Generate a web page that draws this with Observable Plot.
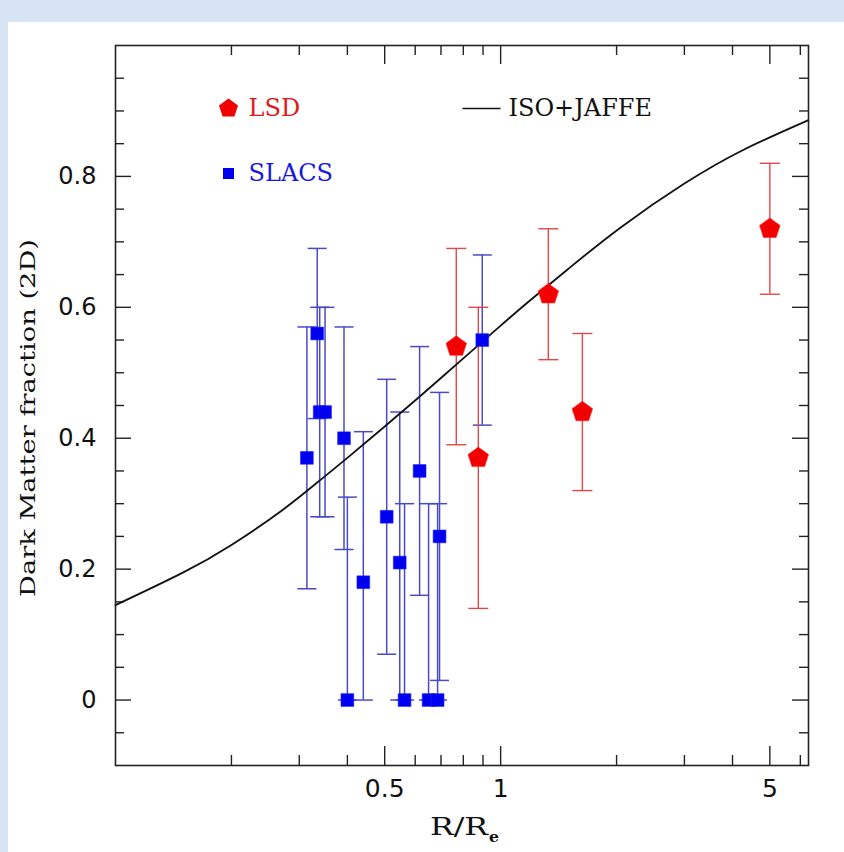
<!DOCTYPE html>
<html>
<head>
<meta charset="utf-8">
<script src="https://cdn.jsdelivr.net/npm/d3@7"></script>
<script src="https://cdn.jsdelivr.net/npm/@observablehq/plot@0.6"></script>
<style>
  html, body { margin: 0; padding: 0; }
  body { width: 844px; height: 852px; background: #d6e4f3; position: relative; overflow: hidden; }
  #chart { position: absolute; left: 8px; top: 22px; width: 836px; height: 830px; background: #ffffff; }
  #chart svg { display: block; background: #ffffff; }
</style>
</head>
<body>
<div id="chart"></div>
<script>
// ---- Data ----
// LSD sample (red pentagons)
const lsdR  = [0.767, 0.875, 1.33, 1.63, 5.0];
const lsdF  = [0.54, 0.37, 0.62, 0.44, 0.72];
const lsdLo = [0.39, 0.14, 0.52, 0.32, 0.62];
const lsdHi = [0.69, 0.60, 0.72, 0.56, 0.82];

// SLACS sample (blue squares)
const slacsR  = [0.314, 0.334, 0.339, 0.350, 0.392, 0.400, 0.440, 0.506, 0.547, 0.563, 0.616, 0.650, 0.686, 0.694, 0.896];
const slacsF  = [0.37, 0.56, 0.44, 0.44, 0.40, 0.00, 0.18, 0.28, 0.21, 0.00, 0.35, 0.00, 0.00, 0.25, 0.55];
const slacsLo = [0.17, 0.43, 0.28, 0.28, 0.23, 0.00, 0.00, 0.07, 0.00, 0.00, 0.16, 0.00, 0.00, 0.03, 0.42];
const slacsHi = [0.57, 0.69, 0.60, 0.60, 0.57, 0.31, 0.41, 0.49, 0.44, 0.30, 0.54, 0.30, 0.30, 0.47, 0.68];

// ISO+JAFFE model curve
const modelR = [0.1, 0.15, 0.2, 0.271, 0.34, 0.4, 0.5, 0.623, 0.8, 1.0, 1.2, 1.5, 2.05, 3.0, 4.25, 6.3];
const modelF = [0.145, 0.195, 0.237, 0.29, 0.336, 0.37, 0.418, 0.466, 0.522, 0.572, 0.612, 0.659, 0.722, 0.789, 0.840, 0.886];

// Ticks
const xLabelTicks = [0.5, 1, 5];
const xMinorTicks = [0.2, 0.3, 0.4, 0.6, 0.7, 0.8, 0.9, 2, 3, 4, 6];
const yLabelTicks = [0, 0.2, 0.4, 0.6, 0.8];
const yMinorTicks = [-0.05, 0.05, 0.1, 0.15, 0.25, 0.3, 0.35, 0.45, 0.5, 0.55, 0.65, 0.7, 0.75, 0.85, 0.9, 0.95];

// Legend / labels
const legendLSD = "LSD";
const legendSLACS = "SLACS";
const legendModel = "ISO+JAFFE";
const yTitle = "Dark Matter fraction (2D)";
const xTitleMain = "R/R";
const xTitleSub = "e";

// ---- Build tables ----
const lsd = lsdR.map((r, i) => ({r, f: lsdF[i], lo: lsdLo[i], hi: lsdHi[i]}));
const slacs = slacsR.map((r, i) => ({r, f: slacsF[i], lo: slacsLo[i], hi: slacsHi[i]}));
const model = modelR.map((r, i) => ({r, f: modelF[i]}));

// ---- Custom symbols ----
const pentagon = {
  draw(context, size) {
    const R = Math.sqrt(size / Math.PI);
    for (let i = 0; i < 5; i++) {
      const a = -Math.PI / 2 + i * 2 * Math.PI / 5;
      const px = R * Math.cos(a), py = R * Math.sin(a);
      if (i === 0) context.moveTo(px, py); else context.lineTo(px, py);
    }
    context.closePath();
  }
};
const hbar = {
  draw(context, size) {
    const w = Math.sqrt(size / Math.PI);
    context.moveTo(-w, 0);
    context.lineTo(w, 0);
  }
};

const W = 836, H = 830;
const mL = 107, mR = 36, mT = 23, mB = 87;
const pW = W - mL - mR, pH = H - mT - mB;

const RED = "#f20000", REDBAR = "#e04848";
const BLUE = "#0000f0", BLUEBAR = "#4a4ac6";
const AX = "#222";

const chart = Plot.plot({
  width: W,
  height: H,
  marginLeft: mL,
  marginRight: mR,
  marginTop: mT,
  marginBottom: mB,
  x: {type: "log", domain: [0.1, 6.3]},
  y: {domain: [-0.1, 1.0]},
  style: {background: "white"},
  marks: [
    // tick labels
    Plot.axisX(xLabelTicks, {anchor: "bottom", tickSize: 0, tickPadding: 14, tickFormat: d => String(d),
      fontSize: 25, fontFamily: "DejaVu Sans", fill: "#111", label: null}),
    Plot.axisY(yLabelTicks, {anchor: "left", tickSize: 0, tickPadding: 17, tickFormat: d => String(d),
      fontSize: 24, fontFamily: "DejaVu Sans", fill: "#111", label: null, dx: -2}),
    // inward tick marks: bottom / top
    Plot.tickX(xLabelTicks, {x: d => d, insetTop: pH - 19, stroke: AX, strokeWidth: 1.4}),
    Plot.tickX(xMinorTicks, {x: d => d, insetTop: pH - 10, stroke: AX, strokeWidth: 1.4}),
    Plot.tickX(xLabelTicks, {x: d => d, insetBottom: pH - 19, stroke: AX, strokeWidth: 1.4}),
    Plot.tickX(xMinorTicks, {x: d => d, insetBottom: pH - 10, stroke: AX, strokeWidth: 1.4}),
    // inward tick marks: left / right
    Plot.tickY(yLabelTicks, {y: d => d, insetRight: pW - 16, stroke: AX, strokeWidth: 1.4}),
    Plot.tickY(yMinorTicks, {y: d => d, insetRight: pW - 9, stroke: AX, strokeWidth: 1.4}),
    Plot.tickY(yLabelTicks, {y: d => d, insetLeft: pW - 16, stroke: AX, strokeWidth: 1.4}),
    Plot.tickY(yMinorTicks, {y: d => d, insetLeft: pW - 9, stroke: AX, strokeWidth: 1.4}),
    // error bars SLACS
    Plot.ruleX(slacs, {x: "r", y1: "lo", y2: "hi", stroke: BLUEBAR, strokeWidth: 1.5}),
    Plot.dot(slacs, {x: "r", y: "lo", symbol: hbar, r: 9.5, stroke: BLUEBAR, fill: "none", strokeWidth: 1.5}),
    Plot.dot(slacs, {x: "r", y: "hi", symbol: hbar, r: 9.5, stroke: BLUEBAR, fill: "none", strokeWidth: 1.5}),
    // error bars LSD
    Plot.ruleX(lsd, {x: "r", y1: "lo", y2: "hi", stroke: REDBAR, strokeWidth: 1.4}),
    Plot.dot(lsd, {x: "r", y: "lo", symbol: hbar, r: 10, stroke: REDBAR, fill: "none", strokeWidth: 1.4}),
    Plot.dot(lsd, {x: "r", y: "hi", symbol: hbar, r: 10, stroke: REDBAR, fill: "none", strokeWidth: 1.4}),
    // model curve
    Plot.line(model, {x: "r", y: "f", curve: "natural", stroke: "#111", strokeWidth: 1.8}),
    // points
    Plot.dot(slacs, {x: "r", y: "f", symbol: "square", r: 7.2, fill: BLUE, stroke: "#2020ff", strokeWidth: 0.6}),
    Plot.dot(lsd, {x: "r", y: "f", symbol: pentagon, r: 10.8, fill: RED, stroke: "#ff2a2a", strokeWidth: 0.6}),
    // frame
    Plot.frame({stroke: AX, strokeWidth: 1.6}),
    // legend
    Plot.dot([legendLSD], {frameAnchor: "top-left", dx: 113, dy: 63, symbol: pentagon, r: 10, fill: RED}),
    Plot.text([legendLSD], {frameAnchor: "top-left", dx: 133, dy: 63, text: d => d, textAnchor: "start",
      lineAnchor: "middle", fill: "#e01818", fontSize: 24, fontFamily: "DejaVu Serif"}),
    Plot.dot([legendSLACS], {frameAnchor: "top-left", dx: 113, dy: 128, symbol: "square", r: 6.2, fill: BLUE}),
    Plot.text([legendSLACS], {frameAnchor: "top-left", dx: 133, dy: 128, text: d => d, textAnchor: "start",
      lineAnchor: "middle", fill: "#1818e0", fontSize: 24, fontFamily: "DejaVu Serif"}),
    Plot.dot([legendModel], {frameAnchor: "top-left", dx: 366, dy: 63, symbol: hbar, r: 19, stroke: "#111", fill: "none", strokeWidth: 1.6}),
    Plot.text([legendModel], {frameAnchor: "top-left", dx: 393, dy: 63, text: d => d, textAnchor: "start",
      lineAnchor: "middle", fill: "#111", fontSize: 24, fontFamily: "DejaVu Serif"})
  ]
});

document.getElementById("chart").appendChild(chart);

// Axis titles (wide serif lettering like the original)
const svg = d3.select(chart);
svg.append("text")
  .attr("transform", `translate(27, ${mT + pH / 2 + 13}) rotate(-90)`)
  .attr("text-anchor", "middle")
  .attr("font-family", "DejaVu Serif")
  .attr("font-size", 21)
  .attr("fill", "#111")
  .attr("textLength", 358)
  .attr("lengthAdjust", "spacingAndGlyphs")
  .text(yTitle);

svg.append("text")
  .attr("x", 422)
  .attr("y", 813)
  .attr("text-anchor", "start")
  .attr("font-family", "DejaVu Serif")
  .attr("font-size", 25)
  .attr("fill", "#111")
  .attr("textLength", 58)
  .attr("lengthAdjust", "spacingAndGlyphs")
  .text(xTitleMain);
svg.append("text")
  .attr("x", 481)
  .attr("y", 820)
  .attr("text-anchor", "start")
  .attr("font-family", "DejaVu Serif")
  .attr("font-size", 15)
  .attr("font-weight", "bold")
  .attr("fill", "#111")
  .attr("textLength", 10)
  .attr("lengthAdjust", "spacingAndGlyphs")
  .text(xTitleSub);
</script>
</body>
</html>
